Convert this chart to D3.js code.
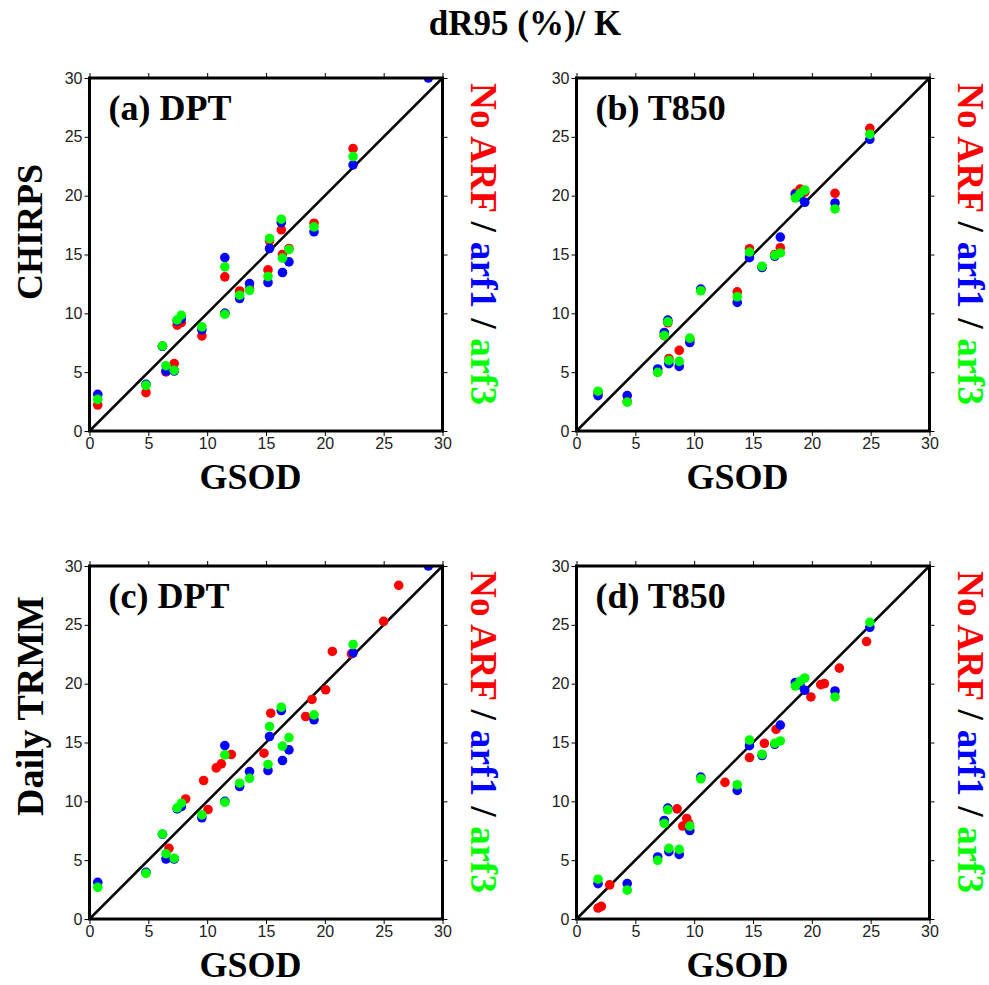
<!DOCTYPE html>
<html>
<head>
<meta charset="utf-8">
<script src="https://cdn.jsdelivr.net/npm/d3@7"></script>
<style>
  body { margin: 0; background: #fff; }
  svg { display: block; }
</style>
</head>
<body>
<div id="chart"></div>
<script>
// dR95 scatter plots, GSOD vs satellite, for three ARF settings

const width = 989;
const height = 985;
const size = 353;   // square plot area
const dotR = 4.8;

const ticks = [0, 5, 10, 15, 20, 25, 30];

// DPT stations (panels a and c), GSOD values
const dptX = [0.7, 4.8, 6.2, 6.5, 7.2, 7.45, 7.8, 9.55, 11.5, 11.5, 12.76, 13.6, 15.17, 15.3, 16.3, 16.4, 16.95, 19.08, 22.4, 28.8];
const dptArf1 = [3.12, 3.97, 7.2, 5.10, 5.10, 9.36, 9.55, 8.6, 14.74, 10.0, 11.26, 12.53, 12.62, 15.51, 17.72, 13.47, 14.37, 16.93, 22.62, 30.0];
const dptArf3 = [2.69, 3.88, 7.23, 5.55, 5.16, 9.44, 9.84, 8.85, 13.95, 9.92, 11.54, 11.96, 13.13, 16.36, 18.0, 14.69, 15.42, 17.35, 23.33, 31.5];
// panel (a) No ARF, CHIRPS
const chirpsRedDpt = [2.21, 3.26, 7.2, 5.02, 5.73, 8.99, 9.21, 8.08, 13.1, 10.0, 11.9, 12.1, 13.69, 16.16, 17.1, 15.0, 15.51, 17.66, 24.0, 31.5];
// panel (c) No ARF, daily TRMM
const trmmRedDptX = [6.75, 8.17, 9.7, 10.07, 10.77, 11.2, 12.05, 14.83, 15.4, 18.37, 18.91, 20.07, 20.64, 22.26, 25.0, 26.28];
const trmmRedDptY = [6.01, 10.2, 11.77, 9.3, 12.84, 13.18, 13.98, 14.09, 17.49, 17.21, 18.66, 19.48, 22.74, 22.54, 25.29, 28.35];

// T850 stations (panels b and d), GSOD values
const t850X = [1.83, 4.31, 6.9, 7.46, 7.76, 7.85, 8.73, 9.63, 10.56, 13.66, 14.7, 15.77, 16.85, 17.32, 18.6, 19.0, 19.4, 21.97, 24.93];
const t850Arf1 = [3.01, 3.01, 5.27, 8.37, 9.42, 5.72, 5.49, 7.52, 12.06, 10.93, 14.73, 13.89, 14.85, 16.48, 20.1, 19.9, 19.44, 19.38, 24.79];
const t850Arf3 = [3.38, 2.45, 4.99, 8.12, 9.28, 6.0, 5.92, 7.89, 11.92, 11.41, 15.21, 14.0, 14.93, 15.13, 19.8, 20.2, 20.48, 18.87, 25.21];
// panel (b) No ARF, CHIRPS
const chirpsRedT850 = [3.3, 2.5, 5.0, 8.1, 9.2, 6.15, 6.85, 7.8, 12.0, 11.83, 15.49, 13.95, 15.0, 15.58, 20.2, 20.56, 20.3, 20.2, 25.72];
// panel (d) No ARF, daily TRMM
const trmmRedT850X = [1.83, 2.11, 2.82, 8.55, 9.37, 9.03, 9.55, 12.62, 14.7, 15.97, 16.96, 19.92, 20.76, 21.07, 22.34, 24.65];
const trmmRedT850Y = [0.93, 1.07, 2.9, 9.36, 8.54, 7.9, 8.1, 11.61, 13.72, 14.93, 16.11, 18.87, 19.92, 20.0, 21.32, 23.58];

const colors = {red: "#ff0000", arf1: "#0000ff", arf3: "#00ff00"};
const serif = "'Liberation Serif', 'Times New Roman', Times, serif";
const sans = "'Liberation Sans', Helvetica, Arial, sans-serif";

// pairs up x and y arrays into points
function pts(xs, ys) {
  return xs.map((x, i) => ({x: x, y: ys[i]}));
}

const panels = [
  {x0: 89.5, y0: 78, label: "(a) DPT",
   series: [[pts(dptX, chirpsRedDpt), colors.red], [pts(dptX, dptArf1), colors.arf1], [pts(dptX, dptArf3), colors.arf3]]},
  {x0: 576.5, y0: 78, label: "(b) T850",
   series: [[pts(t850X, chirpsRedT850), colors.red], [pts(t850X, t850Arf1), colors.arf1], [pts(t850X, t850Arf3), colors.arf3]]},
  {x0: 89.5, y0: 566, label: "(c) DPT",
   series: [[pts(trmmRedDptX, trmmRedDptY), colors.red], [pts(dptX, dptArf1), colors.arf1], [pts(dptX, dptArf3), colors.arf3]]},
  {x0: 576.5, y0: 566, label: "(d) T850",
   series: [[pts(trmmRedT850X, trmmRedT850Y), colors.red], [pts(t850X, t850Arf1), colors.arf1], [pts(t850X, t850Arf3), colors.arf3]]}
];

const svg = d3.select("#chart")
  .append("svg")
  .attr("width", width)
  .attr("height", height);

const xScale = d3.scaleLinear().domain([0, 30]).range([0, size]);
const yScale = d3.scaleLinear().domain([0, 30]).range([size, 0]);

svg.append("defs").append("clipPath")
  .attr("id", "plotclip")
  .append("rect")
  .attr("width", size)
  .attr("height", size);

// main title
svg.append("text")
  .attr("x", 525)
  .attr("y", 35)
  .attr("text-anchor", "middle")
  .attr("font-family", serif)
  .attr("font-weight", "bold")
  .attr("font-size", 35)
  .text("dR95 (%)/ K");

// row labels
svg.append("text")
  .attr("transform", "translate(42,232) rotate(-90)")
  .attr("text-anchor", "middle")
  .attr("font-family", serif)
  .attr("font-weight", "bold")
  .attr("font-size", 36)
  .text("CHIRPS");

svg.append("text")
  .attr("transform", "translate(43,706) rotate(-90)")
  .attr("text-anchor", "middle")
  .attr("font-family", serif)
  .attr("font-weight", "bold")
  .attr("font-size", 38)
  .text("Daily TRMM");

panels.forEach(function(p) {
  const g = svg.append("g").attr("transform", `translate(${p.x0},${p.y0})`);

  // axes, ticks outward on all four sides
  g.append("g")
    .attr("transform", `translate(0,${size})`)
    .call(d3.axisBottom(xScale).tickValues(ticks).tickSize(5).tickPadding(2));
  g.append("g")
    .call(d3.axisLeft(yScale).tickValues(ticks).tickSize(5).tickPadding(2));
  g.append("g")
    .call(d3.axisTop(xScale).tickValues(ticks).tickSize(5).tickFormat(""));
  g.append("g")
    .attr("transform", `translate(${size},0)`)
    .call(d3.axisRight(yScale).tickValues(ticks).tickSize(5).tickFormat(""));

  g.selectAll(".domain").remove();
  g.selectAll(".tick line").attr("stroke", "#000").attr("stroke-width", 1);
  g.selectAll(".tick text")
    .attr("font-family", sans)
    .attr("font-size", 16)
    .attr("fill", "#222");

  // 1:1 line
  g.append("line")
    .attr("x1", xScale(0)).attr("y1", yScale(0))
    .attr("x2", xScale(30)).attr("y2", yScale(30))
    .attr("stroke", "#000")
    .attr("stroke-width", 2.5);

  // dots: No ARF first, then arf1, then arf3 on top
  const dots = g.append("g").attr("clip-path", "url(#plotclip)");
  p.series.forEach(function(s) {
    dots.append("g")
      .selectAll("circle")
      .data(s[0])
      .enter()
      .append("circle")
        .attr("cx", d => xScale(d.x))
        .attr("cy", d => yScale(d.y))
        .attr("r", dotR)
        .attr("fill", s[1]);
  });

  // frame
  g.append("rect")
    .attr("width", size)
    .attr("height", size)
    .attr("fill", "none")
    .attr("stroke", "#000")
    .attr("stroke-width", 3);

  // panel label
  g.append("text")
    .attr("x", 19)
    .attr("y", 42)
    .attr("font-family", serif)
    .attr("font-weight", "bold")
    .attr("font-size", 36)
    .text(p.label);

  // x title
  g.append("text")
    .attr("x", 161)
    .attr("y", size + 58)
    .attr("text-anchor", "middle")
    .attr("font-family", serif)
    .attr("font-weight", "bold")
    .attr("font-size", 36)
    .text("GSOD");

  // rotated legend on the right
  const leg = g.append("text")
    .attr("transform", `translate(${size + 28},5) rotate(90)`)
    .attr("font-family", serif)
    .attr("font-weight", "bold")
    .attr("font-size", 37)
    .attr("textLength", 322)
    .attr("lengthAdjust", "spacing");
  leg.append("tspan").attr("fill", colors.red).text("No ARF");
  leg.append("tspan").attr("fill", "#000").text(" / ");
  leg.append("tspan").attr("fill", colors.arf1).text("arf1");
  leg.append("tspan").attr("fill", "#000").text(" / ");
  leg.append("tspan").attr("fill", colors.arf3).text("arf3");
});
</script>
</body>
</html>
